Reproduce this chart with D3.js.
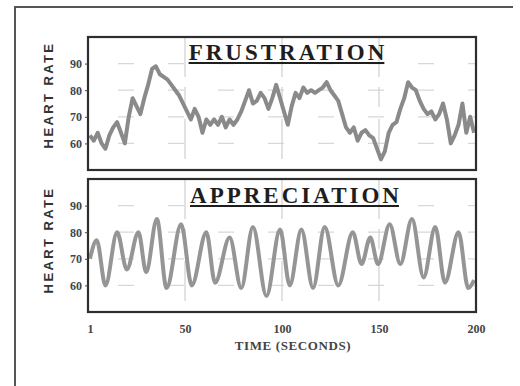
<!DOCTYPE html>
<html>
<head>
<meta charset="utf-8">
<script src="https://cdn.jsdelivr.net/npm/d3@7"></script>
<style>
  body { margin: 0; background: #fff; }
  svg { display: block; }
</style>
</head>
<body>
<div id="chart" style="width:520px;height:386px;"></div>
<script>
// Frustration heart rate, one reading every 2 seconds (t = 1, 3, 5 ... 199)
var frustrationRate = [
  63, 61, 64, 60, 58, 63, 66, 68, 64, 60,
  70, 77, 74, 71, 77, 82, 88, 89, 86, 85,
  84, 82, 80, 78, 75, 72, 69, 73, 70, 64,
  69, 67, 69, 67, 70, 66, 69, 67, 69, 72,
  76, 80, 75, 76, 79, 77, 73, 77, 82, 77,
  72, 67, 74, 79, 77, 81, 79, 80, 79, 80,
  81, 83, 80, 78, 76, 71, 66, 64, 66, 61,
  64, 65, 63, 62, 58, 54, 57, 64, 67, 68,
  73, 77, 83, 81, 80, 76, 73, 71, 72, 69,
  71, 75, 69, 60, 63, 67, 75, 64, 70, 64
];

// Appreciation heart rate, read at the peaks and troughs
var appreciationTime = [1, 4.5, 9, 15, 20, 26, 30, 35.5, 40.5, 48, 53.5, 61, 65.5, 73, 79, 85, 92, 99,
  104, 110, 116, 122, 129, 136.5, 141, 145.5, 149.5, 155.5, 161, 167, 173, 179, 184, 191, 196, 199];
var appreciationRate = [70, 77, 60, 80, 66, 80, 65, 85, 59, 83, 60, 80, 61, 78, 59, 82, 56, 81,
  60, 81, 59, 82, 60, 80, 68, 78, 68, 83, 68, 85, 63, 82, 61, 80, 59, 62];

var timeTicks = [1, 50, 100, 150, 200];
var rateTicks = [60, 70, 80, 90];
var gridTimes = [50, 100, 150];
var panelTitles = ["FRUSTRATION", "APPRECIATION"];

var frustrationData = frustrationRate.map(function(v, i) {
  return { time: 1 + 2 * i, rate: v };
});
var appreciationData = appreciationTime.map(function(t, i) {
  return { time: t, rate: appreciationRate[i] };
});

var chart = d3.select("#chart").append("svg")
    .attr("width", 520)
    .attr("height", 386);

// Outer frame (only top and left edges show in the scan)
chart.append("path")
    .attr("d", "M15,386 L15,7 L513,7")
    .attr("fill", "none")
    .attr("stroke", "#555")
    .attr("stroke-width", 2);

var x = d3.scaleLinear().domain([0, 200]).range([88, 476]);

var panels = [
  { top: 37, bottom: 170, data: frustrationData, curve: d3.curveLinear, color: "#8a8a8a",
    title: panelTitles[0], titleX: 288, titleY: 60, labelY: 95 },
  { top: 179, bottom: 312, data: appreciationData, curve: d3.curveMonotoneX, color: "#959595",
    title: panelTitles[1], titleX: 296, titleY: 203, labelY: 240 }
];

panels.forEach(function(p, idx) {
  var y = d3.scaleLinear().domain([50, 100]).range([p.bottom, p.top]);
  var g = chart.append("g");

  // faint dashed grid
  g.selectAll(".hgrid")
      .data(rateTicks)
    .enter().append("line")
      .attr("x1", x.range()[0]).attr("x2", x.range()[1])
      .attr("y1", function(d) { return y(d); })
      .attr("y2", function(d) { return y(d); })
      .attr("stroke", "#d8d8d8")
      .attr("stroke-width", 1.2)
      .attr("stroke-dasharray", "16,34")
      .attr("stroke-dashoffset", -30);

  g.selectAll(".vgrid")
      .data(gridTimes)
    .enter().append("line")
      .attr("x1", function(d) { return x(d); })
      .attr("x2", function(d) { return x(d); })
      .attr("y1", p.top).attr("y2", p.bottom)
      .attr("stroke", "#d0d0d0")
      .attr("stroke-width", 1.2)
      .attr("stroke-dasharray", "40,10,20,12");

  // heart rate trace
  var line = d3.line()
      .curve(p.curve)
      .x(function(d) { return x(d.time); })
      .y(function(d) { return y(d.rate); });

  g.append("path")
      .datum(p.data)
      .attr("fill", "none")
      .attr("stroke", p.color)
      .attr("stroke-width", 4)
      .attr("stroke-linejoin", "round")
      .attr("d", line);

  // panel frame
  g.append("rect")
      .attr("x", x.range()[0])
      .attr("y", p.top)
      .attr("width", x.range()[1] - x.range()[0])
      .attr("height", p.bottom - p.top)
      .attr("fill", "none")
      .attr("stroke", "#2e2e2e")
      .attr("stroke-width", 2.2);

  // y axis
  var yAxis = d3.axisLeft(y)
      .tickValues(rateTicks)
      .tickSize(3)
      .tickPadding(3);

  var ya = g.append("g")
      .attr("transform", "translate(" + x.range()[0] + ",0)")
      .call(yAxis);
  ya.select(".domain").remove();
  ya.selectAll("line").attr("stroke", "#444");
  ya.selectAll("text")
      .attr("font-family", "'Liberation Serif', 'DejaVu Serif', serif")
      .attr("font-weight", "bold")
      .attr("font-size", 12)
      .attr("fill", "#444");

  // y axis title
  chart.append("text")
      .attr("transform", "translate(53," + p.labelY + ") rotate(-90)")
      .attr("text-anchor", "middle")
      .attr("font-family", "'Liberation Sans', Arial, sans-serif")
      .attr("font-weight", "bold")
      .attr("font-size", 13)
      .attr("letter-spacing", 2.4)
      .attr("fill", "#333")
      .text("HEART RATE");

  // panel title, underlined
  var title = chart.append("text")
      .attr("x", p.titleX)
      .attr("y", p.titleY)
      .attr("text-anchor", "middle")
      .attr("font-family", "'Liberation Serif', 'Times New Roman', serif")
      .attr("font-weight", "bold")
      .attr("font-size", 23)
      .attr("letter-spacing", 3)
      .attr("fill", "#1e1e1e")
      .text(p.title);
  var bb = title.node().getBBox();
  chart.append("line")
      .attr("x1", bb.x).attr("x2", bb.x + bb.width - 3)
      .attr("y1", p.titleY + 3).attr("y2", p.titleY + 3)
      .attr("stroke", "#1e1e1e")
      .attr("stroke-width", 2);

  // x axis on the lower panel only
  if (idx === 1) {
    var xAxis = d3.axisBottom(x)
        .tickValues(timeTicks)
        .tickSize(0)
        .tickPadding(12)
        .tickFormat(d3.format("d"));
    var xa = g.append("g")
        .attr("transform", "translate(0," + p.bottom + ")")
        .call(xAxis);
    xa.select(".domain").remove();
    xa.selectAll("text")
        .attr("font-family", "'Liberation Serif', 'DejaVu Serif', serif")
        .attr("font-weight", "bold")
        .attr("font-size", 12)
        .attr("fill", "#444");

    chart.append("text")
        .attr("x", 293)
        .attr("y", 350)
        .attr("text-anchor", "middle")
        .attr("font-family", "'Liberation Serif', 'Times New Roman', serif")
        .attr("font-weight", "bold")
        .attr("font-size", 13)
        .attr("letter-spacing", 0.6)
        .attr("fill", "#444")
        .text("TIME (SECONDS)");
  }
});
</script>
</body>
</html>
